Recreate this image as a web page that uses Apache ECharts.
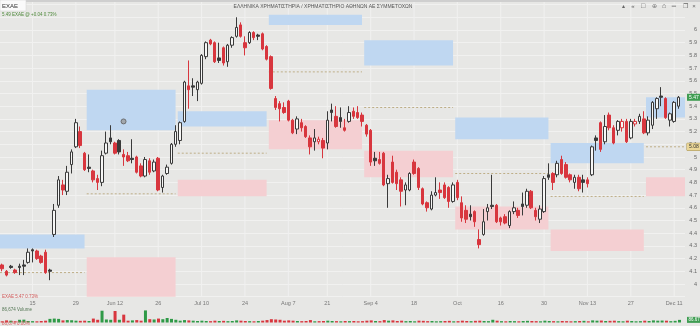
<!DOCTYPE html>
<html><head><meta charset="utf-8">
<script src="https://cdn.jsdelivr.net/npm/echarts@6/dist/echarts.min.js"></script>
<style>html,body{margin:0;padding:0;background:#e7e7e5;}#c{width:700px;height:326px;}</style>
</head><body><div id="c"></div>
<script>
const title = 'ΕΛΛΗΝΙΚΑ ΧΡΗΜΑΤΙΣΤΗΡΙΑ / ΧΡΗΜΑΤΙΣΤΗΡΙΟ ΑΘΗΝΩΝ ΑΕ ΣΥΜΜΕΤΟΧΩΝ';
const dates = [
'05-04','05-05','05-08','05-09','05-10','05-11','05-12','05-15','05-16','05-17','05-18','05-19','05-22','05-23','05-24','05-25','05-26','05-29','05-30','05-31',
'06-01','06-02','06-06','06-07','06-08','06-09','06-12','06-13','06-14','06-15','06-16','06-19','06-20','06-21','06-22','06-23','06-26','06-27','06-28','06-29','06-30',
'07-03','07-04','07-05','07-06','07-07','07-10','07-11','07-12','07-13','07-14','07-17','07-18','07-19','07-20','07-21','07-24','07-25','07-26','07-27','07-28','07-31',
'08-01','08-02','08-03','08-04','08-07','08-08','08-09','08-10','08-11','08-14','08-16','08-17','08-18','08-21','08-22','08-23','08-24','08-25','08-28','08-29','08-30','08-31',
'09-01','09-04','09-05','09-06','09-07','09-08','09-11','09-12','09-13','09-14','09-15','09-18','09-19','09-20','09-21','09-22','09-25','09-26','09-27','09-28','09-29',
'10-02','10-03','10-04','10-05','10-06','10-09','10-10','10-11','10-12','10-13','10-16','10-17','10-18','10-19','10-20','10-23','10-24','10-25','10-26','10-27','10-30','10-31',
'11-01','11-02','11-03','11-06','11-07','11-08','11-09','11-10','11-13','11-14','11-15','11-16','11-17','11-20','11-21','11-22','11-23','11-24','11-27','11-28','11-29','11-30',
'12-01','12-04','12-05','12-06','12-07','12-08','12-11','12-12'];
const opens = [
4.15,4.10,4.14,4.11,4.14,4.15,4.17,4.27,4.26,4.22,
4.25,4.11,4.39,4.62,4.78,4.73,4.94,5.08,5.20,5.03,
4.92,4.89,4.83,4.80,5.03,5.15,5.11,5.13,5.02,5.01,
4.99,5.00,4.93,4.85,4.97,4.89,4.99,4.76,4.87,4.95,
5.10,5.13,5.28,5.56,5.56,5.53,5.58,5.79,5.92,5.90,
5.78,5.86,5.75,5.88,5.95,6.04,5.90,5.90,5.98,5.96,
5.97,5.87,5.79,5.46,5.42,5.39,5.44,5.29,5.22,5.27,
5.24,5.15,5.12,5.12,5.13,5.11,5.37,5.32,5.31,5.23,
5.28,5.36,5.35,5.33,5.25,5.21,4.99,4.98,5.03,4.79,
4.96,4.88,4.82,4.74,4.74,4.96,4.91,4.75,4.64,4.59,
4.70,4.74,4.78,4.76,4.65,4.80,4.64,4.58,4.55,4.57,
4.35,4.39,4.57,4.62,4.62,4.52,4.53,4.46,4.57,4.58,
4.63,4.62,4.73,4.58,4.51,4.57,4.86,4.87,4.86,4.98,
4.94,4.86,4.80,4.84,4.82,4.82,4.86,5.15,5.27,5.12,
5.33,5.23,5.21,5.23,5.28,5.15,5.26,5.28,5.30,5.19,
5.25,5.38,5.48,5.46,5.29,5.28,5.40];
const closes = [
4.12,4.07,4.13,4.09,4.13,4.14,4.25,4.26,4.20,4.17,
4.09,4.10,4.58,4.82,4.74,4.88,5.04,5.27,5.09,4.90,
4.91,4.82,4.80,5.01,5.11,5.12,5.03,5.04,5.00,4.97,
4.98,4.88,4.85,4.98,4.88,4.96,4.74,4.85,4.92,5.10,
5.20,5.27,5.59,5.53,5.55,5.59,5.80,5.90,5.89,5.75,
5.76,5.74,5.88,5.94,6.02,5.95,5.86,5.98,5.94,5.95,
5.85,5.77,5.54,5.39,5.38,5.35,5.29,5.19,5.30,5.23,
5.16,5.08,5.15,5.14,5.07,5.29,5.35,5.24,5.28,5.21,
5.35,5.32,5.31,5.28,5.18,4.96,4.97,4.95,4.78,4.83,
4.80,4.79,4.73,4.78,4.87,4.87,4.76,4.63,4.60,4.70,
4.72,4.72,4.68,4.65,4.78,4.68,4.52,4.51,4.53,4.49,
4.31,4.49,4.60,4.61,4.49,4.49,4.48,4.57,4.60,4.54,
4.61,4.73,4.60,4.53,4.59,4.83,4.84,4.80,4.95,4.87,
4.84,4.82,4.84,4.75,4.80,4.79,5.08,5.13,5.06,5.24,
5.23,5.11,5.28,5.28,5.12,5.28,5.28,5.32,5.19,5.29,
5.43,5.46,5.47,5.31,5.34,5.43,5.47];
const lows = [
4.10,4.06,4.12,4.08,4.07,4.07,4.16,4.17,4.19,4.16,
4.08,4.03,4.37,4.60,4.70,4.70,4.87,5.07,5.07,4.89,
4.88,4.80,4.74,4.77,5.02,5.10,5.02,5.02,4.93,4.96,
4.95,4.87,4.84,4.84,4.86,4.88,4.73,4.72,4.86,4.94,
5.08,5.10,5.27,5.38,5.48,5.44,5.57,5.77,5.88,5.74,
5.74,5.72,5.71,5.86,5.94,5.94,5.80,5.89,5.92,5.92,
5.84,5.76,5.53,5.37,5.28,5.34,5.28,5.18,5.18,5.20,
5.15,5.02,5.05,5.10,4.99,5.06,5.28,5.23,5.23,5.20,
5.27,5.30,5.30,5.24,5.16,4.93,4.93,4.94,4.77,4.60,
4.79,4.74,4.61,4.62,4.73,4.86,4.74,4.62,4.57,4.58,
4.69,4.67,4.67,4.60,4.64,4.66,4.49,4.48,4.50,4.45,
4.28,4.38,4.50,4.59,4.48,4.46,4.47,4.44,4.55,4.52,
4.54,4.60,4.59,4.50,4.48,4.56,4.82,4.74,4.84,4.86,
4.83,4.80,4.75,4.73,4.72,4.76,4.85,5.05,5.04,5.10,
5.21,5.10,5.17,5.20,5.11,5.14,5.24,5.26,5.18,5.17,
5.22,5.30,5.40,5.30,5.24,5.27,5.38];
const highs = [
4.16,4.11,4.15,4.12,4.16,4.19,4.28,4.28,4.27,4.23,
4.27,4.12,4.63,4.85,4.82,4.93,5.06,5.30,5.24,5.04,
5.02,4.90,4.86,5.05,5.20,5.25,5.12,5.14,5.06,5.04,
5.14,5.01,4.95,5.00,4.99,4.98,5.00,4.86,4.94,5.11,
5.25,5.28,5.60,5.76,5.62,5.60,5.81,5.91,5.93,5.91,
5.90,5.87,5.89,5.95,6.10,6.06,5.95,5.99,5.99,5.97,
5.98,5.88,5.80,5.48,5.44,5.43,5.45,5.30,5.32,5.30,
5.25,5.17,5.22,5.16,5.15,5.36,5.42,5.40,5.39,5.30,
5.40,5.39,5.40,5.35,5.26,5.22,5.04,5.04,5.04,4.86,
5.01,4.90,4.84,4.80,4.88,4.98,4.92,4.76,4.65,4.73,
4.84,4.80,4.80,4.77,4.80,4.82,4.69,4.62,4.62,4.58,
4.43,4.59,4.63,4.86,4.63,4.53,4.55,4.58,4.65,4.60,
4.72,4.75,4.74,4.60,4.62,4.85,4.95,4.88,4.97,5.01,
4.96,4.87,4.86,4.86,4.86,4.84,5.09,5.17,5.28,5.33,
5.35,5.25,5.29,5.30,5.30,5.30,5.30,5.34,5.36,5.32,
5.44,5.47,5.55,5.47,5.35,5.44,5.48];
const volumes = [
40,70,60,40,90,95,50,45,40,50,
60,120,130,120,70,80,75,60,55,60,
50,130,90,390,100,90,380,90,260,60,
70,80,60,400,110,100,130,110,150,120,
90,60,80,70,60,50,60,50,45,60,
50,55,45,50,70,60,50,45,40,50,
60,80,110,100,90,60,70,60,50,45,
50,80,40,45,50,60,50,45,40,50,
45,50,40,45,60,70,50,45,80,60,
70,50,60,45,50,40,60,55,45,50,
40,45,50,55,40,45,60,50,45,55,
60,50,45,90,60,45,40,50,45,40,
50,55,50,45,40,60,50,45,40,50,
45,40,45,50,55,40,70,60,65,50,
55,60,45,40,60,50,40,45,60,50,
70,60,65,60,45,55,87];
const tickLabels = {'05-15':'15','05-29':'29','06-12':'Jun 12','06-26':'26','07-10':'Jul 10','07-24':'24','08-07':'Aug 7','08-21':'21','09-04':'Sep 4','09-18':'18','10-02':'Oct','10-16':'16','10-30':'30','11-13':'Nov 13','11-27':'27','12-11':'Dec 11'};
const months = ['05','06','07','08','09','10','11','12'];
const blueLow  = [4.28,5.21,5.24,6.04,5.72,5.14,4.95,5.31];
const blueHigh = [4.39,5.53,5.36,6.12,5.92,5.31,5.11,5.47];
const pinkLow  = [null,3.80,4.69,5.06,4.84,4.43,4.26,4.69];
const pinkHigh = [null,4.21,4.82,5.29,5.05,4.61,4.43,4.84];
const pivots   = [4.09,4.71,5.03,5.67,5.39,4.87,4.69,5.08];
const lastPrice = 5.47;
const eventPoint = ['06-14', 5.28];

const N = dates.length;
const cats = dates.concat(['']);
const lastM = months.length - 1;
const ranges = months.map(m => { let f = -1, l = -1; dates.forEach((d, i) => { if (d.slice(0, 2) === m) { if (f < 0) f = i; l = i; } }); return [f, l]; });
const zoneX = ranges.map((r, k) => [r[0] - 0.5, k === lastM ? N + 0.5 : r[1]]);
const blueData = months.map((m, k) => [zoneX[k][0], zoneX[k][1], blueLow[k], blueHigh[k]]);
const pinkData = months.map((m, k) => [zoneX[k][0], zoneX[k][1], pinkLow[k], pinkHigh[k]]).filter(d => d[2] != null);
const pivotData = months.map((m, k) => [zoneX[k][0], zoneX[k][1], pivots[k]]);
const tickIdx = Object.keys(tickLabels).map(k => dates.indexOf(k));

const RED = '#d8363e', DARK = '#3a3a3a', HOLLOW = '#f7f7f6';
const candleData = dates.map((d, i) => {
  const o = opens[i], c = closes[i];
  const higher = i === 0 ? c >= o : c > closes[i - 1];
  const edge = higher ? DARK : RED;
  const st = c > o ? { color: HOLLOW, borderColor: edge } : { color0: edge, borderColor0: edge, color: edge, borderColor: edge };
  return { value: [o, c, lows[i], highs[i]], itemStyle: st };
});
const volData = volumes.map((v, i) => ({ value: v, itemStyle: { color: closes[i] >= (i ? closes[i - 1] : opens[i]) ? '#2f9a47' : '#d8363e' } }));

function clipRect(p0, p1, cs) {
  return echarts.graphic.clipRectByRect(
    { x: p0[0], y: p0[1], width: p1[0] - p0[0], height: p1[1] - p0[1] },
    { x: cs.x, y: cs.y, width: cs.width, height: cs.height });
}
function zoneRenderer(color) {
  return function (params, api) {
    const p0 = api.coord([api.value(0), api.value(3)]);
    const p1 = api.coord([api.value(1), api.value(2)]);
    const shape = clipRect(p0, p1, params.coordSys);
    return shape && { type: 'rect', shape: shape, style: { fill: color } };
  };
}
const HIDDEN_LINE = { color: 'rgba(0,0,0,0)', width: 1, type: 'solid' };

const chart = echarts.init(document.getElementById('c'));
chart.setOption({
  backgroundColor: '#e7e7e5',
  animation: false,
  textStyle: { fontFamily: 'Liberation Sans, Arial, sans-serif' },
  grid: [
    { left: 0, right: 14, top: 0, bottom: 29.3 },
    { left: 0, right: 14, top: 308, height: 14.5 }
  ],
  xAxis: [
    { type: 'category', data: cats, gridIndex: 0, boundaryGap: true,
      axisLine: { show: false }, axisTick: { show: false }, splitLine: { show: false },
      axisLabel: { interval: (i, v) => tickLabels[v] !== undefined, formatter: v => tickLabels[v] || '', fontSize: 5.5, color: '#777', margin: 4 } },
    { type: 'value', gridIndex: 0, min: -0.5, max: N + 0.5, show: false },
    { type: 'category', data: cats, gridIndex: 1, show: false }
  ],
  yAxis: [
    { type: 'value', gridIndex: 0, position: 'right', min: 3.9, max: 6.236, interval: 0.1,
      axisLine: { show: false }, axisTick: { show: false },
      splitLine: { lineStyle: { color: '#f1f1f0', width: 1 } },
      axisLabel: { formatter: v => (v < 3.95 || v > 6.05) ? '' : String(Math.round(v * 10) / 10), fontSize: 5.5, color: '#666', align: 'right', margin: 12 } },
    { type: 'value', gridIndex: 1, min: 0, max: 480, show: false }
  ],
  series: [
    { type: 'custom', name: 'vgrid', xAxisIndex: 1, yAxisIndex: 0, z: 1, silent: true,
      data: tickIdx.map(i => [i, 4]),
      renderItem: (params, api) => {
        const x = api.coord([api.value(0), api.value(1)])[0];
        const cs = params.coordSys;
        return { type: 'line', shape: { x1: x, y1: cs.y, x2: x, y2: cs.y + cs.height }, style: { stroke: '#f1f1f0', lineWidth: 1 } };
      } },
    { type: 'custom', name: 'blue', xAxisIndex: 1, yAxisIndex: 0, z: 2, silent: true,
      encode: { x: [0, 1], y: [2, 3] }, data: blueData, renderItem: zoneRenderer('#bfd7f1') },
    { type: 'custom', name: 'pink', xAxisIndex: 1, yAxisIndex: 0, z: 2, silent: true,
      encode: { x: [0, 1], y: [2, 3] }, data: pinkData, renderItem: zoneRenderer('#f4cfd2') },
    { type: 'custom', name: 'pivot', xAxisIndex: 1, yAxisIndex: 0, z: 3, silent: true,
      encode: { x: [0, 1], y: 2 }, data: pivotData,
      renderItem: (params, api) => {
        const a = api.coord([api.value(0), api.value(2)]);
        const b = api.coord([api.value(1), api.value(2)]);
        const cs = params.coordSys;
        return { type: 'line', shape: { x1: Math.max(a[0], cs.x), y1: a[1], x2: Math.min(b[0], cs.x + cs.width), y2: b[1] }, style: { stroke: '#b4a070', lineWidth: 0.8, lineDash: [2, 2] } };
      } },
    { type: 'candlestick', name: 'EXAE', xAxisIndex: 0, yAxisIndex: 0, z: 5, barWidth: 3,
      itemStyle: { borderWidth: 1 }, data: candleData,
      markLine: { symbol: 'none', silent: true, lineStyle: HIDDEN_LINE,
        label: { show: true, position: 'end', distance: 2, fontSize: 5, padding: [1, 2] },
        data: [
          { yAxis: lastPrice, label: { backgroundColor: '#3f9d52', color: '#fff', formatter: () => lastPrice.toFixed(2) } },
          { yAxis: pivots[lastM], label: { backgroundColor: '#ead697', borderColor: '#a58d45', borderWidth: 0.5, color: '#333', formatter: () => pivots[lastM].toFixed(2) } }
        ] } },
    { type: 'scatter', name: 'event', xAxisIndex: 0, yAxisIndex: 0, z: 6, symbolSize: 5,
      itemStyle: { color: '#9b9b9b', borderColor: '#5c5c5c', borderWidth: 1 }, data: [eventPoint] },
    { type: 'bar', name: 'Volume', xAxisIndex: 2, yAxisIndex: 1, barWidth: 3, data: volData,
      markLine: { symbol: 'none', silent: true, lineStyle: HIDDEN_LINE,
        label: { show: true, position: 'end', distance: 1, fontSize: 4.5, padding: [0.5, 1.5], backgroundColor: '#3f9d52', color: '#fff', formatter: '86.67K' },
        data: [{ yAxis: volumes[N - 1] }] } }
  ],
  graphic: [
    { type: 'rect', shape: { x: 0, y: 0, width: 700, height: 2 }, style: { fill: '#cfcfcf' }, z: 10 },
    { type: 'rect', shape: { x: 0, y: 0, width: 26, height: 11 }, style: { fill: '#fafafa', stroke: '#d0d0d0', lineWidth: 0.5 }, z: 11 },
    { type: 'text', x: 2, y: 6, style: { text: 'EXAE', fontSize: 6, fill: '#333', verticalAlign: 'middle' }, z: 12 },
    { type: 'text', x: 2, y: 14.5, style: { text: '5.49 EXAE @ +0.04 0.73%', fontSize: 4.5, fill: '#4f8a3c', verticalAlign: 'middle' }, z: 12 },
    { type: 'text', x: 323, y: 7, style: { text: title, fontSize: 5, fill: '#555', align: 'center', verticalAlign: 'middle' }, z: 12 },
    { type: 'text', x: 623, y: 6, style: { text: '▴', fontSize: 6, fill: '#666', align: 'center', verticalAlign: 'middle' }, z: 12 },
    { type: 'text', x: 633, y: 6, style: { text: '«', fontSize: 6, fill: '#666', align: 'center', verticalAlign: 'middle' }, z: 12 },
    { type: 'text', x: 643, y: 6, style: { text: '□', fontSize: 7, fill: '#666', align: 'center', verticalAlign: 'middle' }, z: 12 },
    { type: 'text', x: 654, y: 6, style: { text: '⊕', fontSize: 6, fill: '#777', align: 'center', verticalAlign: 'middle' }, z: 12 },
    { type: 'text', x: 664, y: 6, style: { text: '⌂', fontSize: 7, fill: '#666', align: 'center', verticalAlign: 'middle' }, z: 12 },
    { type: 'text', x: 674, y: 6, style: { text: '═', fontSize: 6, fill: '#666', align: 'center', verticalAlign: 'middle' }, z: 12 },
    { type: 'text', x: 685, y: 6, style: { text: '❐', fontSize: 6, fill: '#666', align: 'center', verticalAlign: 'middle' }, z: 12 },
    { type: 'text', x: 694, y: 6, style: { text: '×', fontSize: 6, fill: '#666', align: 'center', verticalAlign: 'middle' }, z: 12 },
    { type: 'text', x: 2, y: 297, style: { text: 'EXAE 5.47 0.73%', fontSize: 4.5, fill: '#d25a5a', verticalAlign: 'middle' }, z: 12 },
    { type: 'text', x: 2, y: 309.5, style: { text: '86,674 Volume', fontSize: 4.5, fill: '#557755', verticalAlign: 'middle' }, z: 12 },
    { type: 'text', x: 2, y: 324, style: { text: '86,674 0.00%', fontSize: 4.5, fill: '#d25a5a', verticalAlign: 'middle' }, z: 12 }
  ]
});
</script></body></html>
